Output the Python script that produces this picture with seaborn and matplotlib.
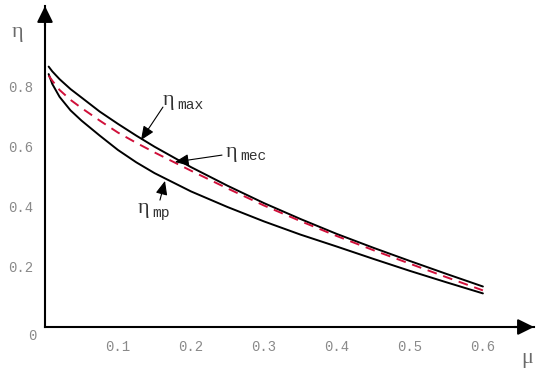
import pandas as pd
import matplotlib.pyplot as plt
import seaborn as sns

# valores
mu = [0.005, 0.01, 0.02, 0.035, 0.05, 0.075, 0.1, 0.125, 0.15, 0.2, 0.25, 0.3,
      0.35, 0.4, 0.45, 0.5, 0.55, 0.6]
eta_max = [0.868, 0.852, 0.826, 0.793, 0.765, 0.718, 0.677, 0.638, 0.601, 0.533,
           0.471, 0.413, 0.360, 0.310, 0.264, 0.220, 0.177, 0.135]
eta_mec = [0.838, 0.821, 0.790, 0.757, 0.730, 0.688, 0.648, 0.614, 0.582, 0.521,
           0.462, 0.405, 0.353, 0.303, 0.256, 0.211, 0.166, 0.122]
eta_mp = [0.843, 0.810, 0.767, 0.722, 0.688, 0.638, 0.590, 0.549, 0.513, 0.452,
          0.400, 0.352, 0.308, 0.268, 0.227, 0.187, 0.149, 0.112]

x_major = [0.1, 0.2, 0.3, 0.4, 0.5, 0.6]
x_labels = ['0.1', '0.2', '0.3', '0.4', '0.5', '0.6']
y_major = [0.2, 0.4, 0.6, 0.8]
y_labels = ['0.2', '0.4', '0.6', '0.8']
x_minor = [i * 0.02 for i in range(1, 31)]
y_minor = [i * 0.04 for i in range(1, 25)]

df = pd.DataFrame({'mu': mu, 'max': eta_max, 'mec': eta_mec, 'mp': eta_mp})

sns.set_style('white')
fig = plt.figure(figsize=(5.45, 3.77), dpi=100)
ax = fig.add_axes([45 / 545, 50 / 377, 489 / 545, 321 / 377])

sns.lineplot(data=df, x='mu', y='max', color='black', lw=1.4, ax=ax)
sns.lineplot(data=df, x='mu', y='mp', color='black', lw=1.4, ax=ax)
sns.lineplot(data=df, x='mu', y='mec', color='#d0103a', lw=1.4, ax=ax,
             linestyle=(0, (5, 3.5)))

ax.set_xlim(0, 0.67)
ax.set_ylim(0, 1.07)
ax.set_xlabel('')
ax.set_ylabel('')

for s in ['top', 'right']:
    ax.spines[s].set_visible(False)
for s in ['left', 'bottom']:
    ax.spines[s].set_color('black')
    ax.spines[s].set_linewidth(1.5)

ax.set_xticks(x_major)
ax.set_xticklabels(x_labels)
ax.set_yticks(y_major)
ax.set_yticklabels(y_labels)
ax.set_xticks(x_minor, minor=True)
ax.set_yticks(y_minor, minor=True)
ax.tick_params(which='both', direction='out', color='black', width=1.1)
ax.tick_params(which='major', length=3.5)
ax.tick_params(which='minor', length=2.2)
ax.tick_params(axis='x', which='major', pad=6)
ax.tick_params(axis='y', which='major', pad=5)
for lab in ax.get_xticklabels() + ax.get_yticklabels():
    lab.set_fontfamily('Liberation Mono')
    lab.set_fontsize(10)
    lab.set_color('#8a8a8a')

# setas dos eixos
seta = dict(arrowstyle='-|>,head_length=0.65,head_width=0.32', color='black',
            lw=1.5, mutation_scale=15, shrinkA=0, shrinkB=0)
ax.annotate('', xy=(1, 0), xycoords='axes fraction', xytext=(-20, 0),
            textcoords='offset pixels', arrowprops=seta, annotation_clip=False)
ax.annotate('', xy=(0, 1), xycoords='axes fraction', xytext=(0, -20),
            textcoords='offset pixels', arrowprops=seta, annotation_clip=False)

ax.text(-0.012, -0.008, '0', ha='right', va='top',
        fontfamily='Liberation Mono', fontsize=10, color='#8a8a8a', clip_on=False)
ax.text(-0.045, 0.98, 'η', ha='left', va='center', fontfamily='Liberation Serif',
        fontsize=16, color='#6a6a6a', clip_on=False)
ax.text(0.653, -0.105, 'μ', ha='left', va='center', fontfamily='Liberation Serif',
        fontsize=16, color='#6a6a6a', clip_on=False)

# rotulos das curvas
rotulos = [
    ((0.1616, 0.785), (0.1616, 0.733), (0.1315, 0.623), 'max'),
    ((0.2480, 0.615), (0.2425, 0.573), (0.178, 0.55), 'mec'),
    ((0.1275, 0.425), (0.1575, 0.423), (0.1644, 0.487), 'mp'),
]
for pos, cauda, ponta, sub in rotulos:
    ax.annotate('', xy=ponta, xytext=cauda,
                arrowprops=dict(arrowstyle='-|>,head_length=0.7,head_width=0.3',
                                color='black', lw=0.8, mutation_scale=12,
                                shrinkA=0, shrinkB=0))
    ax.text(pos[0], pos[1], 'η', ha='left', va='top', fontfamily='Liberation Serif',
            fontsize=16, color='#333333')
    ax.annotate(sub, xy=pos, xytext=(10.5, -4.5), textcoords='offset points',
                ha='left', va='top', fontfamily='Liberation Mono', fontsize=10.5,
                color='#333333')

fig.savefig('out.png', dpi=100)
